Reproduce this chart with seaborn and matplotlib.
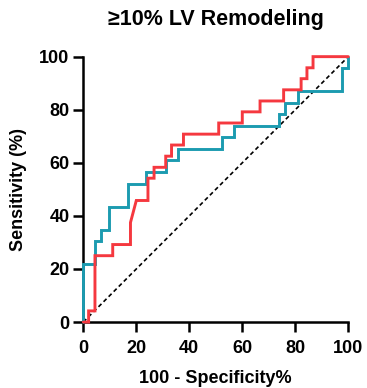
import matplotlib
matplotlib.use("Agg")
import matplotlib.pyplot as plt
import seaborn as sns
import pandas as pd

# ROC curve vertices (100 - specificity %, sensitivity %)
teal_x = [0, 0, 4.4, 4.4, 6.7, 6.7, 9.7, 9.7, 16.7, 16.7, 23.8, 23.8, 31.1, 31.1,
          35.6, 35.6, 52.2, 52.2, 57.0, 57.0, 73.8, 73.8, 76.2, 76.2, 80.9, 80.9,
          97.8, 97.8, 100, 100]
teal_y = [0, 21.7, 21.7, 30.4, 30.4, 34.8, 34.8, 43.5, 43.5, 52.2, 52.2, 56.5, 56.5, 60.9,
          60.9, 65.2, 65.2, 69.6, 69.6, 73.9, 73.9, 78.3, 78.3, 82.6, 82.6, 87.0,
          87.0, 95.7, 95.7, 100]

red_x = [0, 2.0, 2.0, 4.4, 4.4, 11.1, 11.1, 17.8, 17.8, 20.0, 24.4, 24.4, 26.7, 26.7,
         31.1, 31.1, 33.3, 33.3, 37.8, 37.8, 51.1, 51.1, 60.0, 60.0, 66.7, 66.7,
         75.6, 75.6, 82.2, 82.2, 84.4, 84.4, 86.7, 86.7, 100]
red_y = [0, 0, 4.2, 4.2, 25.0, 25.0, 29.2, 29.2, 37.5, 45.8, 45.8, 54.2, 54.2, 58.3,
         58.3, 62.5, 62.5, 66.7, 66.7, 70.8, 70.8, 75.0, 75.0, 79.2, 79.2, 83.3,
         83.3, 87.5, 87.5, 91.7, 91.7, 95.8, 95.8, 100, 100]

ref_x = [0, 100]
ref_y = [0, 100]

xticks = [0, 20, 40, 60, 80, 100]
yticks = [0, 20, 40, 60, 80, 100]

title = "≥10% LV Remodeling"
xlabel = "100 - Specificity%"
ylabel = "Sensitivity (%)"

TEAL = "#1c9bb0"
RED = "#f5383f"

sns.set_theme(style="ticks")
plt.rcParams['font.family'] = ['Liberation Sans', 'DejaVu Sans']
plt.rcParams['font.weight'] = 'bold'
plt.rcParams['text.color'] = 'black'
plt.rcParams['axes.labelcolor'] = 'black'
plt.rcParams['xtick.color'] = 'black'
plt.rcParams['ytick.color'] = 'black'

fig = plt.figure(figsize=(3.67, 3.88), dpi=100)
ax = fig.add_axes([0.227, 0.170, 0.722, 0.684])

df_ref = pd.DataFrame({"x": ref_x, "y": ref_y})
df_teal = pd.DataFrame({"x": teal_x, "y": teal_y})
df_red = pd.DataFrame({"x": red_x, "y": red_y})

sns.lineplot(data=df_ref, x="x", y="y", sort=False, ax=ax, color="black",
             linewidth=1.2, estimator=None, zorder=3)
ax.lines[-1].set_dashes((2.5, 1.8))
sns.lineplot(data=df_teal, x="x", y="y", sort=False, ax=ax, color=TEAL,
             linewidth=2.1, estimator=None, zorder=4)
sns.lineplot(data=df_red, x="x", y="y", sort=False, ax=ax, color=RED,
             linewidth=2.1, estimator=None, zorder=5)
for ln in ax.lines:
    ln.set_clip_on(False)
    ln.set_solid_joinstyle('miter')

ax.set_xlim(0, 100)
ax.set_ylim(0, 100)
ax.set_xticks(xticks)
ax.set_yticks(yticks)
ax.set_xticklabels([str(t) for t in xticks], fontsize=13, fontweight='bold', color='black')
ax.set_yticklabels([str(t) for t in yticks], fontsize=13, fontweight='bold', color='black')
ax.tick_params(axis='both', length=7, width=1.8, color='black')
ax.tick_params(axis='x', pad=6)
ax.tick_params(axis='y', pad=3)

for side in ['top', 'right']:
    ax.spines[side].set_visible(False)
for side in ['left', 'bottom']:
    ax.spines[side].set_linewidth(1.8)
    ax.spines[side].set_color('black')

ax.set_xlabel(xlabel, fontsize=13, fontweight='bold', labelpad=9, color='black')
ax.set_ylabel(ylabel, fontsize=13, fontweight='bold', labelpad=9, color='black')
ax.set_title(title, fontsize=15.5, fontweight='bold', pad=23, color='black')

fig.savefig("out.png", dpi=100, facecolor="white")
